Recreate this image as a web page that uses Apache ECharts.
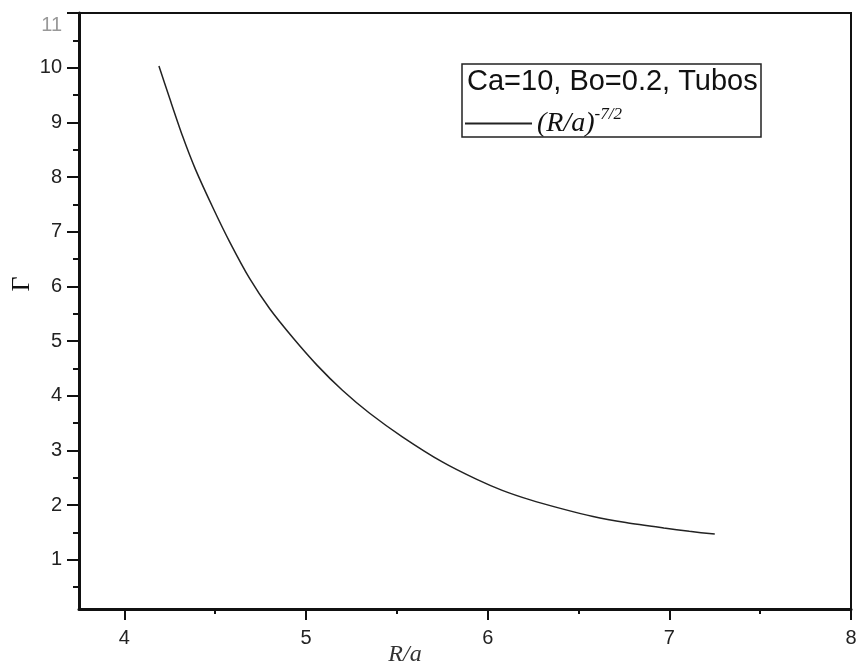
<!DOCTYPE html>
<html>
<head>
<meta charset="utf-8">
<script src="https://cdn.jsdelivr.net/npm/echarts@6/dist/echarts.min.js"></script>
<style>html,body{margin:0;padding:0;background:#fff;}#c{width:856px;height:666px;}</style>
</head>
<body>
<div id="c"></div>
<script>
// Data
var rOverA = [4.19, 4.25, 4.32, 4.39, 4.49, 4.58, 4.69, 4.80, 4.93, 5.06, 5.20, 5.35, 5.53, 5.75, 5.94, 6.08, 6.23, 6.40, 6.58, 6.76, 6.97, 7.11, 7.25];
var gamma  = [10.03, 9.43, 8.75, 8.15, 7.42, 6.81, 6.14, 5.59, 5.05, 4.56, 4.10, 3.68, 3.25, 2.79, 2.47, 2.27, 2.10, 1.94, 1.79, 1.68, 1.58, 1.52, 1.47];
var xMajorTicks = [4, 5, 6, 7, 8];
var xMinorTicks = [4.5, 5.5, 6.5, 7.5];
var yMajorTicks = [1, 2, 3, 4, 5, 6, 7, 8, 9, 10, 11];
var yMinorTicks = [0.5, 1.5, 2.5, 3.5, 4.5, 5.5, 6.5, 7.5, 8.5, 9.5, 10.5];
var seriesName = '(R/a)^-7/2';
var legendTitle = 'Ca=10, Bo=0.2, Tubos';
var xName = 'R/a';
var yName = 'Γ';

var points = rOverA.map(function (x, i) { return [x, gamma[i]]; });

var chart = echarts.init(document.getElementById('c'));
chart.setOption({
  backgroundColor: '#fff',
  animation: false,
  grid: { left: 79, right: 5, top: 13, bottom: 57, outerBoundsMode: 'none', containLabel: false,
    show: true, borderColor: '#111', borderWidth: 2 },
  xAxis: [{
    type: 'value', position: 'bottom', min: 3.75, max: 8,
    name: xName, nameLocation: 'middle', nameGap: 34, nameMoveOverlap: false,
    nameTextStyle: { fontFamily: 'Liberation Serif', fontStyle: 'italic', fontSize: 24, color: '#333', padding: [0, 120, 0, 0] },
    axisLine: { show: true, lineStyle: { color: '#111', width: 3 } },
    axisTick: { show: true, inside: false, length: 11, customValues: xMajorTicks, lineStyle: { color: '#111', width: 2 } },
    axisLabel: { margin: 19, fontFamily: 'Liberation Sans', fontSize: 20, color: '#222', customValues: xMajorTicks,
      hideOverlap: false,
      formatter: function (v) { return String(Math.round(v)); } },
    splitLine: { show: false }
  }, {
    type: 'value', position: 'bottom', min: 3.75, max: 8,
    axisLine: { show: false },
    axisTick: { show: true, inside: false, length: 5, customValues: xMinorTicks, lineStyle: { color: '#111', width: 2 } },
    axisLabel: { show: false }, splitLine: { show: false }
  }],
  yAxis: [{
    type: 'value', position: 'left', min: 0.1, max: 11,
    name: yName, nameLocation: 'middle', nameGap: 44, nameRotate: 90, nameMoveOverlap: false,
    nameTextStyle: { fontFamily: 'Liberation Serif', fontSize: 26, color: '#111', padding: [0, 0, 0, 54] },
    axisLine: { show: true, lineStyle: { color: '#111', width: 3 } },
    axisTick: { show: true, inside: false, length: 12, customValues: yMajorTicks, lineStyle: { color: '#111', width: 2 } },
    axisLabel: { margin: 17, fontFamily: 'Liberation Sans', fontSize: 20, color: '#222', customValues: yMajorTicks,
      hideOverlap: false,
      formatter: function (v) {
        var n = Math.round(v);
        return n === 11 ? '{t|11}' : String(n);
      },
      rich: { t: { fontFamily: 'Liberation Sans', fontSize: 20, color: '#999', padding: [24, 0, 0, 0] } }
    },
    splitLine: { show: false }
  }, {
    type: 'value', position: 'left', min: 0.1, max: 11,
    axisLine: { show: false },
    axisTick: { show: true, inside: false, length: 6, customValues: yMinorTicks, lineStyle: { color: '#111', width: 2 } },
    axisLabel: { show: false }, splitLine: { show: false }
  }],
  legend: {
    show: true, left: 465, top: 106, padding: 0, itemWidth: 67, itemHeight: 2, itemGap: 6,
    icon: 'rect',
    itemStyle: { color: '#222' },
    formatter: function () { return '{n|(R/a)}{s|-7/2}'; },
    textStyle: {
      rich: {
        n: { fontFamily: 'Liberation Serif', fontStyle: 'italic', fontSize: 28, color: '#111' },
        s: { fontFamily: 'Liberation Serif', fontStyle: 'italic', fontSize: 17, color: '#111', padding: [0, 0, 18, 0] }
      }
    }
  },
  graphic: [
    { type: 'rect', shape: { x: 462, y: 64, width: 299, height: 73 }, style: { fill: 'none', stroke: '#222', lineWidth: 1.5 }, z: 10 },
    { type: 'text', x: 467, y: 82, style: { text: legendTitle, fontFamily: 'Liberation Sans', fontSize: 29, fill: '#111', verticalAlign: 'middle', align: 'left' }, z: 10 }
  ],
  series: [{
    name: seriesName, type: 'line', xAxisIndex: 0, yAxisIndex: 0,
    data: points, symbol: 'none', smooth: 0.25,
    lineStyle: { color: '#222', width: 1.5 }, itemStyle: { color: '#222' }
  }]
});
</script>
</body>
</html>
